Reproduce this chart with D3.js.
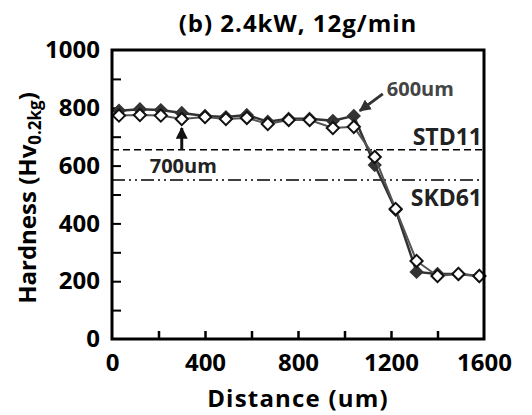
<!DOCTYPE html>
<html>
<head>
<meta charset="utf-8">
<script src="https://cdn.jsdelivr.net/npm/d3@7"></script>
<style>
  body { margin: 0; background: #fff; }
  svg text { font-family: "Open Sans", sans-serif; font-weight: 700; }
</style>
</head>
<body>
<div id="chart"></div>
<script>
// distance along the section (um)
var distances = [30, 120, 210, 300, 400, 490, 580, 670, 760, 850, 950, 1040, 1130, 1220, 1310, 1400, 1490, 1580];
// hardness, 600um layer (filled) and 700um layer (open)
var hard600 = [790, 795, 792, 782, 772, 768, 775, 752, 762, 762, 755, 772, 602, 447, 232, 225, 225, 218];
var hard700 = [773, 775, 773, 761, 768, 761, 765, 744, 758, 758, 730, 734, 630, 450, 270, 218, 225, 218];
var xTicks = [0, 400, 800, 1200, 1600];
var yTicks = [0, 200, 400, 600, 800, 1000];
var refNames = ["STD11", "SKD61"];
var refValues = [655, 550];

var width = 532, height = 415;
var margin = {top: 50, right: 48, bottom: 76, left: 112};
var w = width - margin.left - margin.right;
var h = height - margin.top - margin.bottom;

var svg = d3.select("#chart").append("svg")
    .attr("width", width)
    .attr("height", height);

var g = svg.append("g").attr("transform", "translate(" + margin.left + "," + margin.top + ")");

var x = d3.scaleLinear().domain([0, 1600]).range([0, w]);
var y = d3.scaleLinear().domain([0, 1000]).range([h, 0]);

// inner minor ticks
g.append("g")
    .attr("transform", "translate(0," + h + ")")
    .call(d3.axisTop(x).tickValues(d3.range(200, 1600, 200)).tickSize(8).tickFormat(""))
    .call(function(a) { a.select(".domain").remove(); a.selectAll("line").attr("stroke-width", 2.5); });
g.append("g")
    .call(d3.axisRight(y).tickValues(d3.range(100, 1000, 100)).tickSize(9).tickFormat(""))
    .call(function(a) { a.select(".domain").remove(); a.selectAll("line").attr("stroke-width", 2); });

// tick labels
g.append("g")
    .attr("transform", "translate(0," + h + ")")
    .call(d3.axisBottom(x).tickValues(xTicks).tickSize(0).tickPadding(15).tickFormat(d3.format("d")))
    .call(function(a) {
        a.select(".domain").remove();
        a.selectAll("text").attr("font-size", 24).attr("fill", "#000").style("font-family", "Open Sans");
    });
g.append("g")
    .call(d3.axisLeft(y).tickValues(yTicks).tickSize(0).tickPadding(12).tickFormat(d3.format("d")))
    .call(function(a) {
        a.select(".domain").remove();
        a.selectAll("text").attr("font-size", 24).attr("fill", "#000").style("font-family", "Open Sans");
    });

// reference lines
var dashes = ["7,4", "13,4,2,4,2,4"];
refValues.forEach(function(v, i) {
    g.append("line")
        .attr("x1", 0).attr("x2", w)
        .attr("y1", y(v)).attr("y2", y(v))
        .attr("stroke", "#000")
        .attr("stroke-width", 1.5)
        .attr("stroke-dasharray", dashes[i]);
});
g.append("text").attr("x", w - 2).attr("y", y(refValues[0]) - 5)
    .attr("text-anchor", "end").attr("font-size", 23).attr("fill", "#222").text(refNames[0]);
g.append("text").attr("x", w - 2).attr("y", y(refValues[1]) + 26)
    .attr("text-anchor", "end").attr("font-size", 23).attr("fill", "#222").text(refNames[1]);

// series
var line = d3.line()
    .x(function(d) { return x(d[0]); })
    .y(function(d) { return y(d[1]); });
var diamond = d3.symbol().type(d3.symbolDiamond2).size(95);

var s600 = distances.map(function(d, i) { return [d, hard600[i]]; });
var s700 = distances.map(function(d, i) { return [d, hard700[i]]; });

g.append("path").datum(s600).attr("d", line)
    .attr("fill", "none").attr("stroke", "#333").attr("stroke-width", 2.5);
g.selectAll(".p600").data(s600).enter().append("path")
    .attr("class", "p600")
    .attr("transform", function(d) { return "translate(" + x(d[0]) + "," + y(d[1]) + ")"; })
    .attr("d", diamond)
    .attr("fill", "#333").attr("stroke", "#333").attr("stroke-width", 1.5);

g.append("path").datum(s700).attr("d", line)
    .attr("fill", "none").attr("stroke", "#555").attr("stroke-width", 2);
g.selectAll(".p700").data(s700).enter().append("path")
    .attr("class", "p700")
    .attr("transform", function(d) { return "translate(" + x(d[0]) + "," + y(d[1]) + ")"; })
    .attr("d", diamond)
    .attr("fill", "#fff").attr("stroke", "#111").attr("stroke-width", 2);

// annotations
svg.append("defs").append("marker")
    .attr("id", "arr").attr("viewBox", "0 0 10 10")
    .attr("refX", 9).attr("refY", 5)
    .attr("markerWidth", 4).attr("markerHeight", 4)
    .attr("orient", "auto")
    .append("path").attr("d", "M0,0L10,5L0,10z").attr("fill", "context-stroke");

var a600 = [x(1040), y(772)];
g.append("line")
    .attr("x1", a600[0] + 29).attr("y1", a600[1] - 22)
    .attr("x2", a600[0] + 6).attr("y2", a600[1] - 5)
    .attr("stroke", "#333").attr("stroke-width", 3).attr("marker-end", "url(#arr)");
g.append("text").attr("x", a600[0] + 33).attr("y", a600[1] - 20)
    .attr("font-size", 20).attr("fill", "#444").text("600um");

var a700 = [x(300), y(761)];
g.append("line")
    .attr("x1", a700[0]).attr("y1", a700[1] + 31)
    .attr("x2", a700[0]).attr("y2", a700[1] + 9)
    .attr("stroke", "#111").attr("stroke-width", 3).attr("marker-end", "url(#arr)");
g.append("text").attr("x", a700[0] - 32).attr("y", a700[1] + 54)
    .attr("font-size", 20).attr("fill", "#222").text("700um");

// frame
g.append("rect").attr("width", w).attr("height", h)
    .attr("fill", "none").attr("stroke", "#000").attr("stroke-width", 3);

// titles
svg.append("text").attr("x", margin.left + w / 2).attr("y", 32)
    .attr("text-anchor", "middle").attr("font-size", 24)
    .attr("letter-spacing", 1).text("(b) 2.4kW, 12g/min");
svg.append("text").attr("x", margin.left + w / 2).attr("y", 407)
    .attr("text-anchor", "middle").attr("font-size", 24)
    .attr("letter-spacing", 1.2).text("Distance (um)");
var yt = svg.append("text")
    .attr("transform", "translate(36,198) rotate(-90)")
    .attr("text-anchor", "middle").attr("font-size", 24);
yt.append("tspan").text("Hardness (Hv");
yt.append("tspan").attr("font-size", 17).attr("dy", 5).text("0.2kg");
yt.append("tspan").attr("dy", -5).text(")");
</script>
</body>
</html>
